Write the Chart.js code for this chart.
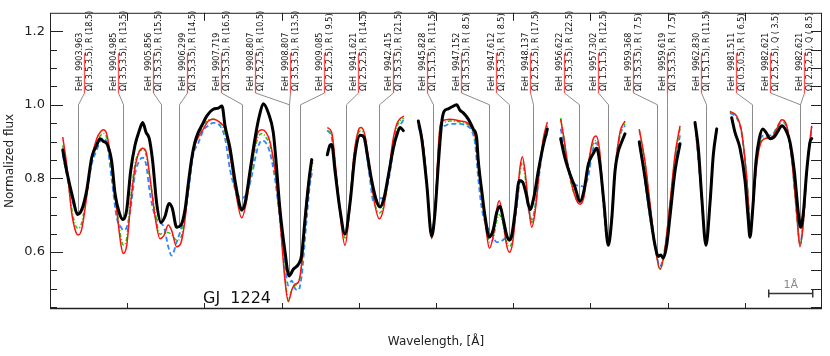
<!DOCTYPE html>
<html><head><meta charset="utf-8">
<script src="https://cdn.jsdelivr.net/npm/chart.js@4.4.1/dist/chart.umd.min.js"></script>
<style>html,body{margin:0;padding:0;background:#fff;}canvas{display:block;}</style>
</head><body>
<canvas id="c" width="830" height="356"></canvas>
<script>
// ---------------- DATA ----------------
// Observed spectrum (GJ 1224); null separates stitched spectral windows
const obsX = [
  0.165,0.216,0.302,0.354,0.411,0.475,0.540,0.605,0.648,0.690,0.742,0.799,0.842,0.898,0.949,0.994,1.045,1.101,1.157,1.201,1.244,1.286,1.330,1.382,1.438,1.490,1.541,1.584,1.641,1.693,1.749,1.791,1.836,1.878,1.921,1.965,2.030,2.115,2.180,2.228,2.267,2.332,2.396,2.461,2.483,2.526,2.591,2.655,2.711,2.763,2.828,2.892,2.921,2.979,3.044,3.096,3.152,3.216,3.260,3.303,3.359,3.390,
  null,
  3.592,3.627,3.649,3.692,3.756,3.821,3.886,3.951,4.016,4.067,4.110,4.167,4.232,4.275,4.326,4.382,4.447,4.491,4.534,4.577,
  null,
  4.771,4.815,4.880,4.944,4.987,5.030,5.074,5.104,5.159,5.203,5.268,5.311,5.354,5.418,5.483,5.527,5.548,5.592,5.635,5.691,5.743,5.785,5.829,5.872,5.916,5.950,5.981,6.023,6.079,6.123,6.166,6.218,6.269,6.325,6.390,6.442,
  null,
  6.615,6.671,6.736,6.801,6.865,6.917,6.973,7.038,7.082,7.124,7.176,7.232,7.276,7.319,7.361,7.405,7.448,
  null,
  7.633,7.707,7.772,7.837,7.880,7.911,7.944,7.988,8.031,8.096,8.161,
  null,
  8.355,8.398,8.442,8.497,8.549,8.592,8.636,
  null,
  8.830,8.873,8.938,9.003,9.045,9.067,9.102,9.145,9.188,9.232,9.275,9.326,9.378,9.434,9.478,9.534,9.585,9.641,9.693,9.724,9.758,9.802,9.845,9.867
];
const obsY = [
  0.877,0.820,0.741,0.702,0.715,0.767,0.856,0.890,0.908,0.901,0.892,0.846,0.759,0.706,0.688,0.715,0.820,0.890,0.930,0.952,0.925,0.908,0.846,0.732,0.680,0.697,0.732,0.719,0.667,0.672,0.715,0.785,0.855,0.899,0.925,0.943,0.969,0.988,0.991,0.997,0.943,0.882,0.794,0.724,0.715,0.732,0.820,0.908,0.969,1.003,0.978,0.925,0.864,0.715,0.601,0.535,0.553,0.566,0.592,0.688,0.803,0.851,
  null,
  0.864,0.890,0.892,0.820,0.715,0.649,0.732,0.864,0.917,0.912,0.864,0.794,0.737,0.722,0.746,0.807,0.882,0.917,0.938,0.930,
  null,
  0.956,0.908,0.785,0.643,0.706,0.838,0.952,0.982,0.989,0.994,1.000,0.985,0.978,0.961,0.934,0.909,0.846,0.767,0.697,0.640,0.662,0.706,0.724,0.688,0.645,0.632,0.645,0.706,0.794,0.790,0.759,0.715,0.750,0.820,0.890,0.934,
  null,
  0.908,0.855,0.811,0.776,0.737,0.767,0.838,0.868,0.882,0.838,0.732,0.618,0.688,0.820,0.873,0.899,0.921,
  null,
  0.899,0.803,0.706,0.618,0.588,0.592,0.583,0.618,0.697,0.820,0.894,
  null,
  0.952,0.882,0.750,0.618,0.732,0.864,0.934,
  null,
  0.965,0.925,0.882,0.794,0.688,0.640,0.715,0.846,0.908,0.934,0.925,0.908,0.912,0.930,0.943,0.930,0.899,0.820,0.706,0.667,0.706,0.820,0.899,0.908
];

// Synthetic spectra share one wavelength grid
const modelX = [
  0.165,0.216,0.281,0.337,0.367,0.411,0.475,0.540,0.605,0.657,0.690,0.734,0.799,0.864,0.920,0.949,0.994,1.045,1.101,1.157,1.201,1.244,1.295,1.360,1.425,1.477,1.532,1.576,1.641,1.693,1.749,1.791,1.856,1.921,1.986,2.050,2.115,2.202,2.267,2.332,2.396,2.483,2.548,2.613,2.655,2.694,2.746,2.798,2.850,2.915,2.979,3.044,3.087,3.131,3.174,3.216,3.260,3.316,3.368,3.403,
  null,
  3.592,3.649,3.705,3.766,3.821,3.877,3.938,3.994,4.028,4.080,4.136,4.197,4.266,4.318,4.382,4.439,4.491,4.534,4.585,
  null,
  4.771,4.836,4.887,4.944,5.000,5.032,5.058,5.117,5.181,5.311,5.398,5.462,5.505,5.548,5.592,5.648,5.691,5.743,5.786,5.820,5.864,5.907,5.950,5.994,6.045,6.088,6.118,6.153,6.196,6.240,6.282,6.338,6.390,6.442,
  null,
  6.615,6.658,6.714,6.779,6.843,6.865,6.917,6.973,7.030,7.073,7.116,7.167,7.211,7.241,7.276,7.319,7.383,7.448,
  null,
  7.633,7.707,7.772,7.837,7.902,7.966,8.031,8.096,8.161,
  null,
  8.364,8.420,8.472,8.497,8.540,8.592,8.636,
  null,
  8.808,8.895,8.960,9.024,9.076,9.132,9.188,9.262,9.349,9.413,9.478,9.543,9.608,9.672,9.715,9.758,9.810,9.867
];
const modelRed = [
  0.912,0.838,0.706,0.653,0.646,0.662,0.750,0.855,0.908,0.927,0.932,0.921,0.838,0.715,0.618,0.596,0.618,0.732,0.829,0.873,0.882,0.873,0.803,0.697,0.636,0.645,0.673,0.658,0.614,0.623,0.688,0.776,0.873,0.912,0.934,0.956,0.961,0.952,0.934,0.864,0.776,0.693,0.741,0.838,0.890,0.925,0.932,0.925,0.899,0.820,0.688,0.522,0.465,0.496,0.513,0.517,0.569,0.732,0.820,0.851,
  null,
  0.938,0.925,0.820,0.688,0.618,0.706,0.864,0.930,0.938,0.917,0.838,0.741,0.690,0.715,0.803,0.899,0.947,0.962,0.969,
  null,
  0.956,0.890,0.767,0.636,0.759,0.890,0.948,0.959,0.961,0.956,0.952,0.938,0.917,0.855,0.759,0.662,0.610,0.645,0.715,0.739,0.697,0.627,0.599,0.627,0.732,0.829,0.859,0.820,0.732,0.667,0.706,0.820,0.908,0.953,
  null,
  0.961,0.908,0.829,0.767,0.732,0.730,0.750,0.838,0.903,0.915,0.882,0.750,0.645,0.627,0.688,0.820,0.925,0.956,
  null,
  0.934,0.846,0.732,0.618,0.553,0.610,0.732,0.864,0.943,
  null,
  0.934,0.803,0.662,0.623,0.706,0.864,0.938,
  null,
  0.982,0.969,0.925,0.803,0.662,0.794,0.882,0.908,0.912,0.934,0.959,0.943,0.855,0.706,0.614,0.680,0.838,0.943
];
const modelGreen = [
  0.890,0.824,0.719,0.669,0.664,0.680,0.759,0.856,0.898,0.917,0.922,0.911,0.824,0.719,0.638,0.619,0.638,0.746,0.838,0.874,0.877,0.864,0.798,0.711,0.648,0.653,0.653,0.646,0.632,0.638,0.701,0.777,0.877,0.917,0.943,0.959,0.961,0.951,0.924,0.864,0.772,0.711,0.746,0.824,0.877,0.911,0.922,0.911,0.890,0.817,0.693,0.535,0.469,0.496,0.509,0.517,0.561,0.719,0.811,0.843,
  null,
  0.930,0.917,0.811,0.698,0.638,0.719,0.864,0.922,0.930,0.909,0.824,0.740,0.706,0.724,0.798,0.890,0.938,0.956,0.964,
  null,
  0.956,0.890,0.772,0.646,0.759,0.885,0.943,0.953,0.956,0.953,0.948,0.935,0.911,0.843,0.753,0.667,0.627,0.638,0.685,0.701,0.680,0.632,0.614,0.638,0.732,0.817,0.843,0.806,0.732,0.680,0.719,0.824,0.903,0.943,
  null,
  0.964,0.909,0.824,0.764,0.738,0.738,0.764,0.838,0.890,0.903,0.874,0.746,0.648,0.632,0.693,0.817,0.917,0.948,
  null,
  0.930,0.843,0.732,0.619,0.553,0.611,0.732,0.859,0.935,
  null,
  0.932,0.801,0.664,0.627,0.706,0.864,0.935,
  null,
  0.980,0.967,0.924,0.803,0.664,0.796,0.890,0.911,0.914,0.935,0.956,0.940,0.853,0.706,0.619,0.680,0.838,0.940
];
const modelBlue = [
  0.864,0.811,0.746,0.711,0.706,0.714,0.759,0.838,0.877,0.903,0.909,0.898,0.798,0.693,0.667,0.659,0.667,0.719,0.811,0.848,0.856,0.838,0.759,0.698,0.680,0.667,0.614,0.590,0.627,0.659,0.701,0.759,0.864,0.896,0.930,0.943,0.951,0.943,0.909,0.824,0.772,0.746,0.759,0.806,0.851,0.885,0.903,0.896,0.869,0.798,0.685,0.561,0.509,0.522,0.501,0.496,0.535,0.667,0.785,0.824,
  null,
  0.930,0.911,0.806,0.701,0.646,0.719,0.851,0.911,0.917,0.896,0.811,0.732,0.746,0.746,0.790,0.864,0.917,0.943,0.961,
  null,
  0.943,0.885,0.772,0.653,0.753,0.869,0.930,0.943,0.948,0.948,0.943,0.930,0.896,0.798,0.719,0.674,0.659,0.638,0.627,0.627,0.632,0.638,0.638,0.659,0.719,0.790,0.790,0.772,0.719,0.688,0.719,0.811,0.890,0.922,
  null,
  0.935,0.890,0.832,0.790,0.780,0.780,0.777,0.806,0.877,0.896,0.864,0.732,0.640,0.632,0.698,0.824,0.917,0.943,
  null,
  0.903,0.790,0.693,0.614,0.561,0.611,0.719,0.843,0.917,
  null,
  0.930,0.798,0.664,0.627,0.706,0.859,0.930,
  null,
  0.977,0.964,0.922,0.798,0.667,0.798,0.901,0.917,0.917,0.938,0.953,0.938,0.851,0.706,0.622,0.685,0.838,0.938
];

// Line identifications
const lineX = [0.363,0.946,1.438,1.671,2.487,3.096,3.096,3.238,3.834,4.262,4.961,5.687,5.946,6.256,6.852,7.228,7.863,7.992,8.497,9.093,9.715,9.715];
const lineWl = ["9903.963","9904.985","9905.856","9906.299","9907.719","9908.807","9908.807","9909.085","9941.621","9942.415","9945.828","9947.152","9947.612","9948.137","9956.622","9957.302","9959.368","9959.619","9962.830","9981.511","9982.621","9982.621"];
const lineOmega = ["3.5,3.5","3.5,3.5","3.5,3.5","3.5,3.5","3.5,3.5","2.5,2.5","3.5,3.5","2.5,2.5","2.5,2.5","3.5,3.5","1.5,1.5","3.5,3.5","3.5,3.5","2.5,2.5","3.5,3.5","1.5,1.5","3.5,3.5","3.5,3.5","1.5,1.5","0.5,0.5","2.5,2.5","2.5,2.5"];
const lineBranch = ["R (18.5)","R (13.5)","R (15.5)","R (14.5)","R (16.5)","R (10.5)","R (13.5)","R ( 9.5)","R (14.5)","R (21.5)","R (11.5)","R ( 8.5)","R ( 8.5)","R (17.5)","R (22.5)","R (12.5)","R ( 7.5)","R ( 7.5)","R (11.5)","R ( 6.5)","Q ( 3.5)","Q ( 8.5)"];

// Axis ticks
const yMajorTicks = [0.6, 0.8, 1.0, 1.2];
const yMinorTicks = [0.45,0.5,0.55,0.65,0.7,0.75,0.85,0.9,0.95,1.05,1.1,1.15];
const xMajorTicks = [1,2,3,4,5,6,7,8,9];

// ---------------- LAYOUT CONSTANTS ----------------
const Y_MIN = 0.445, Y_MAX = 1.25, X_MIN = 0, X_MAX = 10;
const LABEL_BAR_TOP = 1.14, LABEL_BAR_BOTTOM = 1.032, LABEL_KNEE = 1.0;
const LABEL_FIRST = 0.0440, LABEL_STEP = 0.04443;
const SCALEBAR_X0 = 9.31, SCALEBAR_X1 = 9.88, SCALEBAR_Y = 0.488;
const FONT = '"DejaVu Sans", "Liberation Sans", sans-serif';

function pts(X, Y) {
  return X.map((x, i) => ({ x: x === null ? X[i - 1] : x, y: Y[i] }));
}
function interpObs(v) {
  for (let i = 0; i < obsX.length - 1; i++) {
    const a = obsX[i], b = obsX[i + 1];
    if (a === null || b === null) continue;
    if (v >= a && v <= b) {
      const t = (v - a) / (b - a);
      return obsY[i] + t * (obsY[i + 1] - obsY[i]);
    }
  }
  return LABEL_KNEE;
}

const labelPlugin = {
  id: 'lineLabels',
  beforeDatasetsDraw(chart) {
    const { ctx, chartArea: a, scales: { x, y } } = chart;
    ctx.save();
    const yb = y.getPixelForValue(LABEL_BAR_BOTTOM);
    const yt = y.getPixelForValue(LABEL_BAR_TOP);
    const yk = y.getPixelForValue(LABEL_KNEE);
    lineX.forEach((lx, i) => {
      const ax = Math.round(a.left + a.width * (LABEL_FIRST + i * LABEL_STEP)) + 0.5;
      const px = Math.round(x.getPixelForValue(lx)) + 0.5;
      const yf = y.getPixelForValue(interpObs(lx));
      ctx.strokeStyle = '#8c8c8c';
      ctx.lineWidth = 1;
      ctx.beginPath();
      ctx.moveTo(ax, yb); ctx.lineTo(px, yk); ctx.lineTo(px, yf);
      ctx.stroke();
      ctx.strokeStyle = '#ff5050';
      ctx.lineWidth = 1.3;
      ctx.beginPath(); ctx.moveTo(ax, yt); ctx.lineTo(ax, yb); ctx.stroke();
      ctx.fillStyle = '#111';
      ctx.font = '8px ' + FONT;
      ctx.textAlign = 'left';
      ctx.textBaseline = 'middle';
      ctx.save();
      ctx.translate(ax - 5, yb - 2);
      ctx.rotate(-Math.PI / 2);
      ctx.fillText('FeH  ' + lineWl[i], 0, 0);
      ctx.restore();
      ctx.save();
      ctx.translate(ax + 5, yb - 2);
      ctx.rotate(-Math.PI / 2);
      ctx.fillText('\u03A9( ' + lineOmega[i] + '), ' + lineBranch[i], 0, 0);
      ctx.restore();
    });
    ctx.restore();
  },
  afterDraw(chart) {
    const { ctx, chartArea: a, scales: { x, y } } = chart;
    ctx.save();
    ctx.strokeStyle = '#222';
    ctx.lineWidth = 1;
    ctx.strokeRect(a.left + 0.5, a.top + 0.5, a.right - a.left - 1, a.bottom - a.top - 1);
    ctx.beginPath();
    const ytick = (v, major) => {
      const py = Math.round(y.getPixelForValue(v)) + 0.5;
      ctx.moveTo(a.left, py); ctx.lineTo(a.left + (major ? 13 : 7), py);
      ctx.moveTo(a.right, py); ctx.lineTo(a.right - 11, py);
    };
    yMajorTicks.forEach(v => ytick(v, true));
    yMinorTicks.forEach(v => ytick(v, false));
    xMajorTicks.forEach(v => {
      const px = Math.round(x.getPixelForValue(v)) + 0.5;
      ctx.moveTo(px, a.top); ctx.lineTo(px, a.top + 8);
      ctx.moveTo(px, a.bottom); ctx.lineTo(px, a.bottom - 6);
    });
    ctx.stroke();
    // bottom axis slightly heavier
    ctx.lineWidth = 1.4;
    ctx.beginPath(); ctx.moveTo(a.left, a.bottom - 0.5); ctx.lineTo(a.right, a.bottom - 0.5); ctx.stroke();

    // scale bar 1 Å
    const sx0 = x.getPixelForValue(SCALEBAR_X0), sx1 = x.getPixelForValue(SCALEBAR_X1);
    const sy = Math.round(y.getPixelForValue(SCALEBAR_Y)) + 0.5;
    ctx.strokeStyle = '#333'; ctx.lineWidth = 1.5;
    ctx.beginPath();
    ctx.moveTo(sx0, sy); ctx.lineTo(sx1, sy);
    ctx.moveTo(sx0, sy - 4); ctx.lineTo(sx0, sy + 4);
    ctx.moveTo(sx1, sy - 4); ctx.lineTo(sx1, sy + 4);
    ctx.stroke();
    ctx.fillStyle = '#888';
    ctx.font = '11px ' + FONT;
    ctx.textAlign = 'center';
    ctx.textBaseline = 'alphabetic';
    ctx.fillText('1\u00C5', (sx0 + sx1) / 2, sy - 6);

    // object name
    ctx.fillStyle = '#111';
    ctx.font = '16px ' + FONT;
    ctx.textAlign = 'left';
    ctx.fillText('GJ  1224', a.left + 153, a.bottom - 6);
    ctx.restore();
  }
};

const common = { pointRadius: 0, pointHoverRadius: 0, fill: false, cubicInterpolationMode: 'monotone', spanGaps: false };

new Chart(document.getElementById('c'), {
  type: 'line',
  data: {
    datasets: [
      Object.assign({ label: 'GJ 1224', data: pts(obsX, obsY), borderColor: '#000', borderWidth: 3, borderJoinStyle: 'round', borderCapStyle: 'round', order: 0 }, common),
      Object.assign({ label: 'model 1', data: pts(modelX, modelRed), borderColor: '#ff1010', borderWidth: 1.5, order: 1 }, common),
      Object.assign({ label: 'model 2', data: pts(modelX, modelGreen), borderColor: '#22cc00', borderWidth: 1.5, borderDash: [4, 2, 1, 2], order: 2 }, common),
      Object.assign({ label: 'model 3', data: pts(modelX, modelBlue), borderColor: '#2f86ff', borderWidth: 1.8, borderDash: [5, 3], order: 3 }, common)
    ]
  },
  options: {
    responsive: false,
    animation: false,
    events: [],
    layout: { padding: { top: 3, right: 8, left: 0, bottom: 0 } },
    plugins: { legend: { display: false }, tooltip: { enabled: false } },
    scales: {
      x: {
        type: 'linear', min: X_MIN, max: X_MAX,
        grid: { display: false, drawTicks: false },
        border: { display: false },
        ticks: { display: false },
        title: { display: true, text: 'Wavelength, [\u00C5]', color: '#222', font: { family: FONT, size: 12 }, padding: { top: 0, bottom: 7 } },
        afterFit(s) { s.height = 47; }
      },
      y: {
        type: 'linear', min: Y_MIN, max: Y_MAX,
        grid: { display: false, drawTicks: false },
        border: { display: false },
        afterBuildTicks(s) { s.ticks = yMajorTicks.map(v => ({ value: v })); },
        ticks: { color: '#222', padding: 5, font: { family: FONT, size: 13 }, callback: v => Number(v).toFixed(1) },
        title: { display: true, text: 'Normalized flux', color: '#222', font: { family: FONT, size: 12 }, padding: { top: 3, bottom: 0 } },
        afterFit(s) { s.width = 50; }
      }
    }
  },
  plugins: [labelPlugin]
});
</script>
</body></html>
